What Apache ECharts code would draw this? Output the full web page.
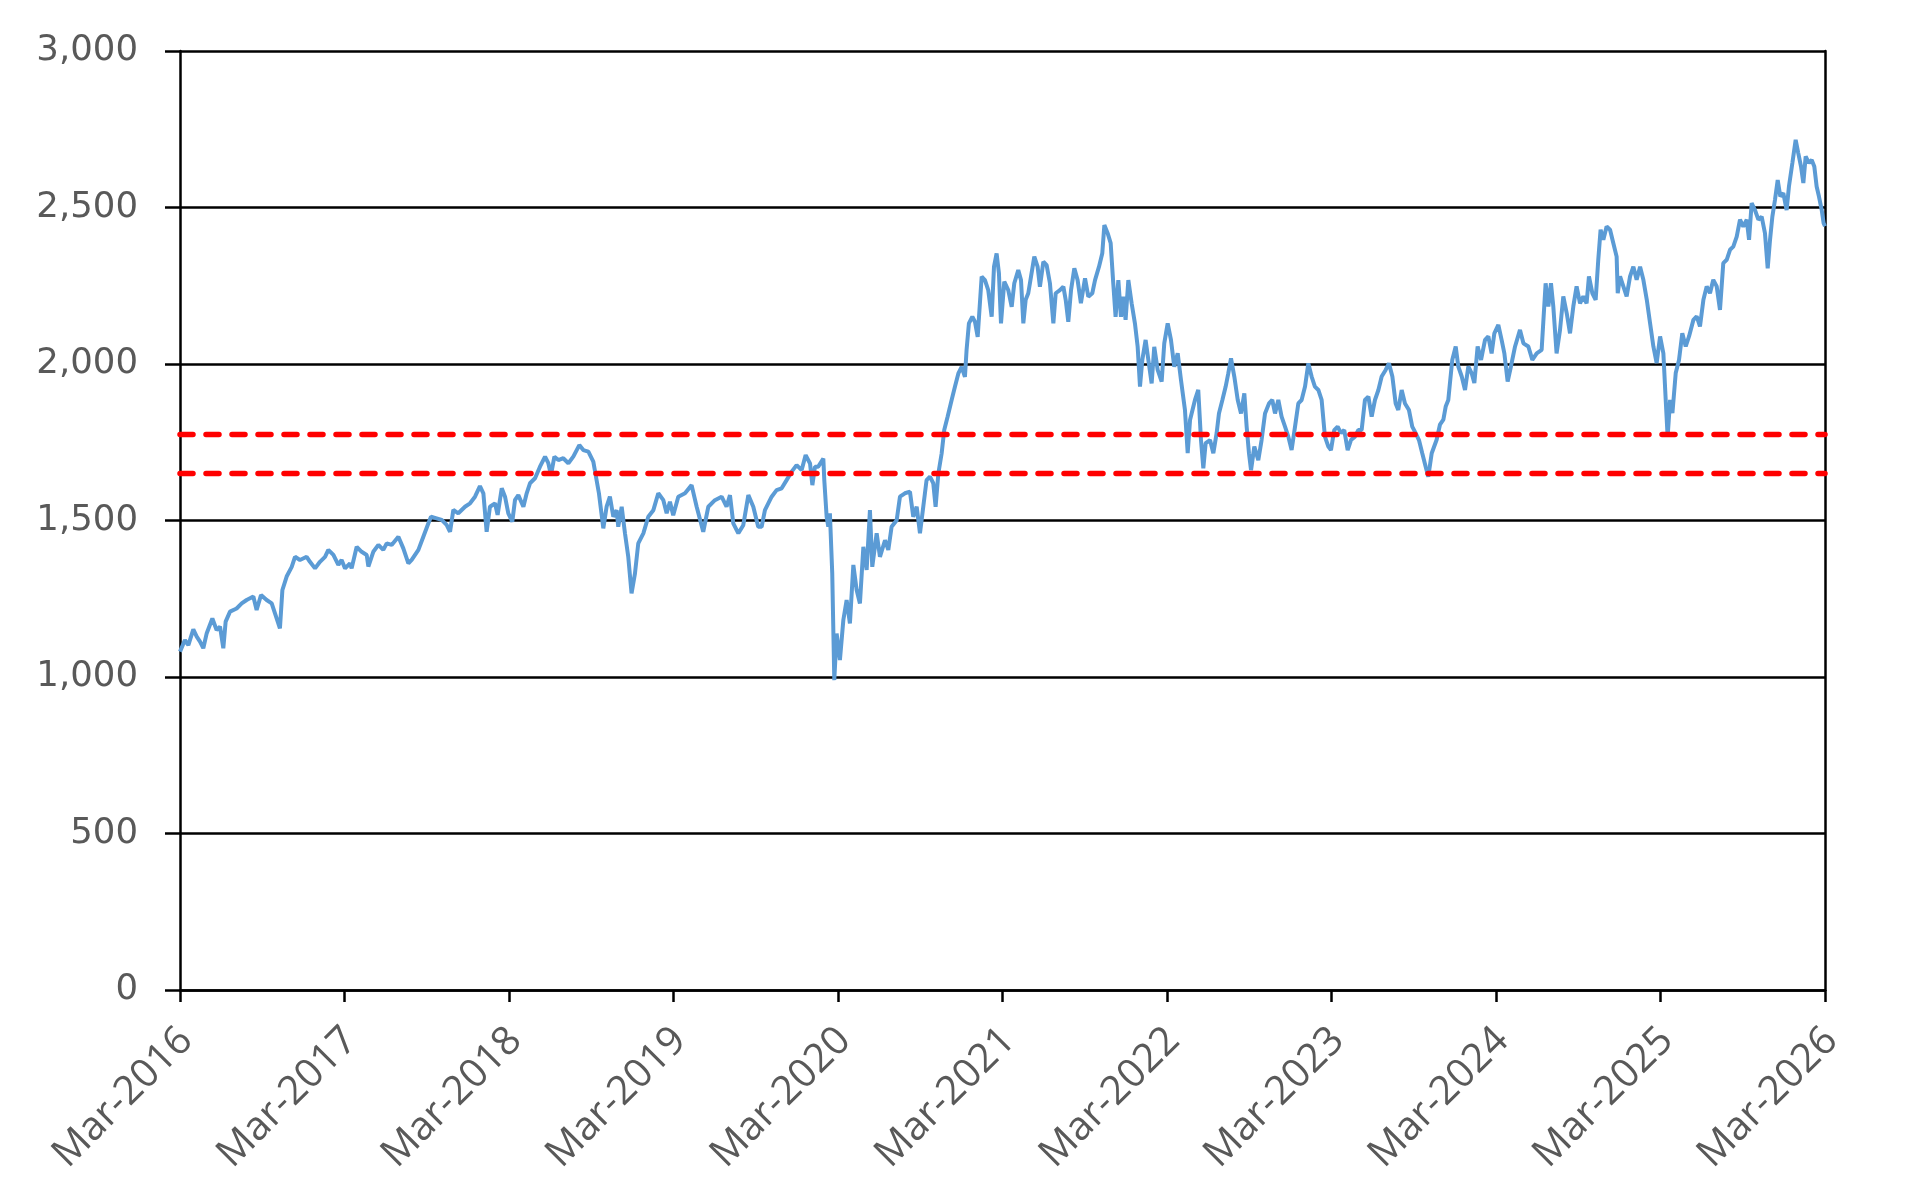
<!DOCTYPE html>
<html>
<head>
<meta charset="utf-8">
<style>
  html, body { margin: 0; padding: 0; background: #ffffff; }
  #chart { width: 1918px; height: 1198px; }
</style>
<script src="https://cdn.jsdelivr.net/npm/echarts@6/dist/echarts.min.js"></script>
</head>
<body>
<div id="chart"></div>
<script>
// x = months since Mar-2016, y = index level
const period2016to2018 = [[0,1081],[0.36,1118],[0.61,1102],[0.97,1152],[1.22,1129],[1.46,1113],[1.70,1092],[1.95,1140],[2.36,1187],[2.67,1150],[2.92,1161],[3.16,1092],[3.33,1177],[3.65,1209],[4.13,1219],[4.50,1235],[4.86,1246],[5.35,1257],[5.59,1214],[5.91,1262],[6.32,1246],[6.69,1235],[6.93,1203],[7.29,1155],[7.47,1278],[7.78,1321],[8.15,1352],[8.39,1384],[8.75,1374],[9.24,1384],[9.48,1368],[9.85,1347],[10.21,1368],[10.58,1384],[10.82,1406],[11.19,1390],[11.55,1358],[11.79,1374],[12.04,1347],[12.40,1363],[12.52,1347],[12.89,1416],[13.25,1400],[13.62,1390],[13.74,1353],[14.10,1400],[14.47,1422],[14.83,1406],[15.08,1427],[15.44,1422],[15.93,1448],[16.29,1411],[16.66,1363],[16.90,1374],[17.39,1406],[17.75,1448],[18.12,1491],[18.31,1512],[18.72,1507],[19.09,1502],[19.45,1486],[19.70,1464],[19.94,1534],[20.30,1523],[20.79,1544],[21.16,1555],[21.52,1576],[21.88,1610],[22.13,1587],[22.37,1464],[22.61,1544],[22.98,1555],[23.17,1518],[23.47,1603],[23.71,1576],[23.95,1523],[24.24,1496],[24.44,1566],[24.68,1581],[25.05,1544],[25.29,1587],[25.53,1619],[25.90,1635],[26.26,1672],[26.63,1704],[26.87,1683],[27.06,1645],[27.31,1704],[27.60,1693],[27.96,1699],[28.33,1683],[28.69,1704],[29.13,1741],[29.42,1725],[29.79,1720],[30.15,1688]];

const period2018to2021 = [[30.56,1587],[30.88,1475],[31.12,1544],[31.36,1576],[31.61,1512],[31.85,1533],[31.97,1480],[32.22,1544],[32.46,1459],[32.70,1384],[32.94,1267],[33.19,1331],[33.43,1427],[33.80,1459],[34.16,1512],[34.53,1533],[34.89,1587],[35.26,1565],[35.50,1523],[35.74,1560],[35.98,1517],[36.35,1576],[36.84,1587],[37.32,1613],[37.69,1544],[38.17,1464],[38.54,1544],[39.02,1565],[39.51,1576],[39.87,1544],[40.12,1581],[40.36,1491],[40.73,1459],[41.09,1485],[41.46,1581],[41.82,1544],[42.18,1480],[42.43,1480],[42.67,1533],[43.16,1576],[43.52,1597],[43.89,1603],[44.25,1629],[44.62,1656],[44.98,1677],[45.35,1661],[45.64,1709],[45.96,1682],[46.13,1613],[46.32,1672],[46.56,1672],[46.93,1698],[47.00,1629],[47.17,1512],[47.29,1480],[47.41,1523],[47.58,1331],[47.73,990],[47.90,1139],[48.14,1054],[48.39,1182],[48.63,1246],[48.87,1171],[49.12,1358],[49.36,1278],[49.60,1235],[49.85,1416],[50.09,1342],[50.33,1533],[50.50,1352],[50.82,1459],[51.06,1384],[51.43,1437],[51.67,1406],[51.91,1480],[52.28,1501],[52.52,1576],[52.88,1587],[53.25,1592],[53.49,1512],[53.74,1544],[53.98,1459],[54.22,1544],[54.46,1629],[54.71,1640],[54.95,1619],[55.12,1544],[55.32,1650],[55.56,1714],[55.75,1789],[56.00,1832],[56.29,1885],[56.53,1927],[56.78,1970],[57.02,1991],[57.26,1959],[57.38,2045],[57.55,2130],[57.80,2151],[57.99,2135],[58.19,2087],[58.48,2279],[58.72,2268],[58.96,2236],[59.21,2151],[59.38,2311],[59.57,2353],[59.74,2290],[59.89,2130],[60.13,2263],[60.42,2236],[60.67,2183],[60.86,2258]];

const period2021to2023 = [[61.15,2300],[61.35,2268],[61.52,2130],[61.69,2205],[61.88,2226],[62.08,2279],[62.32,2343],[62.56,2311],[62.73,2247],[62.98,2327],[63.22,2316],[63.46,2258],[63.71,2130],[63.88,2226],[64.19,2236],[64.44,2247],[64.61,2205],[64.80,2135],[65.00,2236],[65.24,2306],[65.48,2268],[65.72,2194],[66.02,2274],[66.26,2215],[66.55,2226],[66.75,2268],[67.04,2311],[67.28,2354],[67.43,2444],[67.67,2418],[67.89,2386],[68.08,2258],[68.25,2151],[68.45,2268],[68.64,2151],[68.81,2215],[68.98,2141],[69.18,2268],[69.42,2194],[69.66,2130],[69.86,2055],[70.03,1928],[70.20,2013],[70.44,2077],[70.64,2013],[70.88,1938],[71.07,2055],[71.32,1981],[71.61,1944],[71.80,2066],[72.05,2130],[72.29,2077],[72.53,1991],[72.78,2034],[73.02,1949],[73.31,1853],[73.51,1715],[73.68,1821],[74.04,1885],[74.28,1917],[74.48,1757],[74.65,1667],[74.82,1747],[75.14,1757],[75.38,1715],[75.62,1779],[75.79,1842],[76.04,1885],[76.28,1928],[76.47,1970],[76.67,2018],[76.91,1960],[77.16,1885],[77.40,1842],[77.64,1906],[77.81,1800],[77.98,1715],[78.13,1661],[78.37,1736],[78.66,1693],[78.90,1757],[79.15,1842],[79.44,1874],[79.68,1885],[79.88,1842],[80.12,1885],[80.36,1832],[80.61,1800],[80.85,1768],[81.09,1725],[81.34,1800],[81.58,1874],[81.82,1885],[82.07,1928],[82.31,2002],[82.55,1960],[82.79,1928],[83.04,1917],[83.28,1885],[83.52,1768],[83.77,1736],[83.96,1725],[84.20,1789],[84.45,1800],[84.69,1779],[84.93,1789],[85.18,1725],[85.42,1757],[85.71,1768],[85.96,1789],[86.20,1789],[86.44,1885],[86.69,1896],[86.93,1832],[87.17,1885],[87.42,1917],[87.66,1960],[87.95,1981],[88.19,2002],[88.44,1960],[88.68,1874],[88.87,1853],[89.12,1917],[89.36,1874],[89.65,1853],[89.89,1800],[90.14,1779],[90.38,1757],[90.62,1715],[90.87,1672],[91.06,1640],[91.31,1715]];

const period2023to2026 = [[91.67,1758],[91.91,1806],[92.16,1822],[92.33,1864],[92.52,1885],[92.64,1939],[92.81,2013],[93.06,2056],[93.25,1992],[93.50,1960],[93.74,1917],[93.98,1992],[94.22,1971],[94.42,1939],[94.66,2056],[94.91,2013],[95.20,2077],[95.44,2088],[95.68,2034],[95.88,2098],[96.17,2125],[96.41,2077],[96.61,2034],[96.85,1944],[97.09,1992],[97.39,2056],[97.75,2109],[98.00,2066],[98.36,2056],[98.65,2013],[98.97,2034],[99.33,2045],[99.62,2258],[99.82,2184],[100.01,2258],[100.18,2184],[100.42,2034],[100.67,2109],[100.91,2216],[101.16,2162],[101.40,2098],[101.64,2184],[101.88,2248],[102.13,2194],[102.37,2216],[102.61,2194],[102.78,2280],[103.03,2226],[103.27,2205],[103.46,2333],[103.63,2429],[103.83,2397],[104.07,2439],[104.32,2429],[104.56,2386],[104.80,2343],[104.88,2226],[105.05,2280],[105.29,2248],[105.53,2216],[105.78,2280],[106.02,2311],[106.26,2269],[106.51,2311],[106.75,2269],[107.00,2205],[107.24,2130],[107.48,2056],[107.72,2003],[107.97,2088],[108.21,2034],[108.38,1885],[108.52,1768],[108.70,1885],[108.87,1843],[109.11,1971],[109.35,2013],[109.59,2098],[109.84,2056],[110.08,2088],[110.40,2141],[110.64,2152],[110.88,2120],[111.13,2205],[111.37,2248],[111.61,2226],[111.85,2269],[112.10,2248],[112.34,2173],[112.58,2322],[112.83,2333],[113.07,2365],[113.31,2375],[113.56,2407],[113.80,2461],[114.04,2439],[114.29,2461],[114.46,2397],[114.65,2514],[114.89,2492],[115.14,2461],[115.38,2471],[115.62,2418],[115.82,2306],[115.99,2397],[116.16,2471],[116.35,2524],[116.55,2588],[116.74,2535],[116.96,2546],[117.20,2492],[117.37,2567],[117.62,2642],[117.86,2716],[118.05,2674],[118.25,2631],[118.42,2578],[118.59,2663],[118.83,2642],[119.03,2652],[119.22,2631],[119.39,2567],[119.56,2535],[119.76,2492],[119.90,2450],[120,2440]];

const referenceLevels = [1775, 1650];
const startYear = 2016;
const totalMonths = 120;
const yTicks = [0, 500, 1000, 1500, 2000, 2500, 3000];

const indexSeries = [].concat(period2016to2018, period2018to2021, period2021to2023, period2023to2026);

const chart = echarts.init(document.getElementById('chart'), null, { renderer: 'canvas' });

const axisColor = '#000000';
const labelColor = '#595959';

const option = {
  animation: false,
  backgroundColor: '#ffffff',
  grid: { left: 180, right: 93, top: 51, bottom: 208, containLabel: false, outerBoundsMode: 'none' },
  xAxis: {
    type: 'value',
    min: 0,
    max: totalMonths,
    interval: 12,
    axisLine: { show: true, onZero: false, lineStyle: { color: axisColor, width: 2.5 } },
    axisTick: { show: true, inside: false, length: 12, lineStyle: { color: axisColor, width: 2.5 } },
    splitLine: { show: false },
    axisLabel: {
      rotate: 45,
      margin: 38,
      align: 'right',
      verticalAlign: 'top',
      lineHeight: 18,
      color: labelColor,
      fontFamily: '"Open Sans", sans-serif',
      fontSize: 40,
      formatter: v => 'Mar-' + (startYear + Math.round(v / 12))
    }
  },
  yAxis: [{
    type: 'value',
    min: yTicks[0],
    max: yTicks[yTicks.length - 1],
    interval: 500,
    axisLine: { show: true, lineStyle: { color: axisColor, width: 2.5 } },
    axisTick: { show: true, inside: false, length: 15, lineStyle: { color: axisColor, width: 2.5 } },
    splitLine: { show: true, lineStyle: { color: axisColor, width: 2.5 } },
    axisLabel: {
      margin: 42,
      color: labelColor,
      fontFamily: '"DejaVu Sans", Verdana, sans-serif',
      fontSize: 35.5,
      formatter: v => v.toLocaleString('en-US')
    }
  }, {
    type: 'value',
    position: 'right',
    min: 0, max: 3000, interval: 500,
    axisLine: { show: true, lineStyle: { color: axisColor, width: 2.5 } },
    axisTick: { show: false },
    axisLabel: { show: false },
    splitLine: { show: false }
  }],
  series: [
    {
      name: 'Index',
      type: 'line',
      data: indexSeries,
      showSymbol: false,
      symbol: 'none',
      smooth: false,
      lineStyle: { color: '#5B9BD5', width: 4 },
      z: 3
    },
    ...referenceLevels.map((lvl, i) => ({
      name: 'Level ' + (i + 1),
      type: 'line',
      data: [[0, lvl], [totalMonths, lvl]],
      showSymbol: false,
      symbol: 'none',
      lineStyle: { color: '#FF0000', width: 5.5, type: [13, 13], cap: 'round' },
      z: 4
    }))
  ]
};

chart.setOption(option);
</script>
</body>
</html>
